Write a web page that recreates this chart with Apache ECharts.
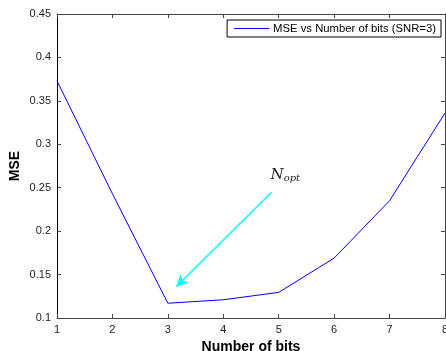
<!DOCTYPE html>
<html>
<head>
<meta charset="utf-8">
<script src="https://cdn.jsdelivr.net/npm/echarts@6/dist/echarts.min.js"></script>
<style>
  html, body { margin: 0; padding: 0; background: #fff; }
  #chart { width: 446px; height: 351px; }
</style>
</head>
<body>
<div id="chart"></div>
<script>
// number of bits vs MSE
const bits = [1, 2, 3, 4, 5, 6, 7, 8];
const mse = [0.373, 0.243, 0.117, 0.121, 0.1295, 0.169, 0.235, 0.336];
const seriesName = 'MSE vs Number of bits (SNR=3)';
// annotation arrow, from label to the minimum
const arrowFrom = [4.87, 0.2447];
const arrowTo = [3.15, 0.136];

const chart = echarts.init(document.getElementById('chart'));

const axisFont = { fontFamily: 'Liberation Sans, Arial', fontSize: 11, color: '#222' };
const frame = { lineStyle: { color: '#444', width: 1 } };
const tick = { show: true, inside: true, length: 4, lineStyle: { color: '#444' } };

const option = {
  animation: false,
  backgroundColor: '#fff',
  grid: { left: 57, right: 1, top: 14, bottom: 33, containLabel: false, outerBoundsMode: 'none' },
  legend: {
    data: [seriesName],
    right: 5,
    top: 20,
    orient: 'vertical',
    backgroundColor: '#fff',
    borderColor: '#000',
    borderWidth: 1,
    borderRadius: 0,
    padding: [3, 5, 3, 7],
    itemWidth: 35,
    itemHeight: 1,
    itemGap: 2,
    icon: 'rect',
    itemStyle: { color: '#0000ff' },
    textStyle: { fontFamily: 'Liberation Sans, Arial', fontSize: 11.3, color: '#000', padding: [0, 0, 0, -1] }
  },
  xAxis: [
    {
      type: 'value', min: 1, max: 8, interval: 1,
      name: 'Number of bits', nameLocation: 'middle', nameGap: 22, nameMoveOverlap: false,
      nameTextStyle: { fontFamily: 'Liberation Sans, Arial', fontSize: 14, fontWeight: 'bold', color: '#000' },
      axisLine: frame, axisTick: tick,
      axisLabel: Object.assign({ margin: 6 }, axisFont),
      splitLine: { show: false }
    },
    {
      type: 'value', position: 'top', min: 1, max: 8, interval: 1,
      axisLine: frame, axisTick: tick, axisLabel: { show: false }, splitLine: { show: false }
    }
  ],
  yAxis: [
    {
      type: 'value', min: 0.1, max: 0.45, interval: 0.05,
      name: 'MSE', nameLocation: 'middle', nameGap: 35, nameMoveOverlap: false,
      nameTextStyle: { fontFamily: 'Liberation Sans, Arial', fontSize: 14, fontWeight: 'bold', color: '#000' },
      axisLine: { show: true, lineStyle: { color: '#000' } }, axisTick: tick,
      axisLabel: Object.assign({ margin: 6 }, axisFont),
      splitLine: { show: false }
    },
    {
      type: 'value', position: 'right', min: 0.1, max: 0.45, interval: 0.05,
      axisLine: { show: true, lineStyle: { color: '#444' } }, axisTick: tick,
      axisLabel: { show: false }, splitLine: { show: false }
    }
  ],
  series: [
    {
      name: seriesName,
      type: 'line',
      data: bits.map((b, i) => [b, mse[i]]),
      showSymbol: false,
      lineStyle: { color: '#0000ff', width: 1 },
      itemStyle: { color: '#0000ff' },
      markLine: {
        silent: true,
        symbol: ['none', 'arrow'],
        symbolSize: [9, 12],
        lineStyle: { color: '#00ffff', width: 1.5, type: 'solid' },
        label: { show: false },
        data: [[{ coord: arrowFrom }, { coord: arrowTo }]]
      }
    }
  ]
};

chart.setOption(option);

// N_opt label just above the arrow tail
const p = chart.convertToPixel({ gridIndex: 0 }, arrowFrom);
chart.setOption({
  graphic: [{
    type: 'text',
    left: p[0] - 1,
    top: p[1] - 25,
    silent: true,
    style: {
      text: '{n|N}{s|opt}',
      rich: {
        n: { fontFamily: 'DejaVu Serif, Liberation Serif', fontStyle: 'italic', fontSize: 15, fill: '#222' },
        s: { fontFamily: 'DejaVu Serif, Liberation Serif', fontStyle: 'italic', fontSize: 10, fill: '#222', padding: [8, 0, 0, 0] }
      }
    }
  }]
});
</script>
</body>
</html>
